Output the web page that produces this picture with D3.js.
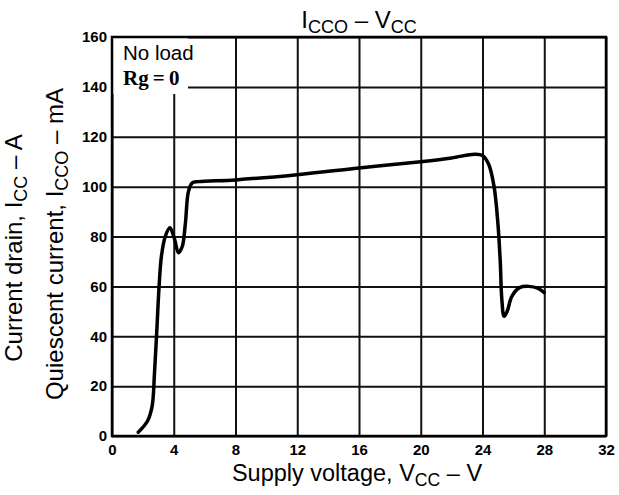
<!DOCTYPE html>
<html>
<head>
<meta charset="utf-8">
<script src="https://cdn.jsdelivr.net/npm/d3@7"></script>
<style>
  body { margin: 0; background: #fff; }
</style>
</head>
<body>
<div id="vis"></div>
<script>
// curve (supply voltage V, quiescent current mA)
const volts = [1.7, 2.3, 2.6, 2.75, 2.9, 3.05, 3.2, 3.45, 3.75, 4.05, 4.3, 4.55, 4.75, 4.95, 5.2, 5.6,
  8, 12, 16, 20, 22, 23.5, 24, 24.4, 24.75, 25.0, 25.15, 25.25, 25.4, 25.6, 25.9, 26.4, 27, 27.6, 28];
const current = [1.5, 6, 12, 25, 42, 60, 72, 80, 83.5, 79, 73.5, 76, 85, 98, 101.5, 102,
  102.7, 104.8, 107.5, 110, 111.5, 113, 112.5, 109, 100, 85, 70, 55, 48, 50, 56, 59.5, 60, 59.2, 57.5];

const xTicks = [0, 4, 8, 12, 16, 20, 24, 28, 32];
const yTicks = [0, 20, 40, 60, 80, 100, 120, 140, 160];

const SANS = "'Liberation Sans', Arial, sans-serif";
const SERIF = "'Liberation Serif', 'Times New Roman', serif";

const FRAME_WIDTH = 619;
const FRAME_HEIGHT = 495;
const MARGINS = { left: 112, right: 13, top: 37, bottom: 59 };

const VIS_WIDTH = FRAME_WIDTH - MARGINS.left - MARGINS.right;
const VIS_HEIGHT = FRAME_HEIGHT - MARGINS.top - MARGINS.bottom;

const FRAME = d3.select("#vis")
  .append("svg")
  .attr("width", FRAME_WIDTH)
  .attr("height", FRAME_HEIGHT)
  .attr("font-family", SANS);

const X_SCALE = d3.scaleLinear().domain([0, 32]).range([0, VIS_WIDTH]);
const Y_SCALE = d3.scaleLinear().domain([0, 160]).range([VIS_HEIGHT, 0]);

const G = FRAME.append("g")
  .attr("transform", "translate(" + MARGINS.left + "," + MARGINS.top + ")");

// grid + tick labels
const xAxis = G.append("g")
  .attr("transform", "translate(0," + VIS_HEIGHT + ")")
  .call(d3.axisBottom(X_SCALE).tickValues(xTicks).tickSize(-VIS_HEIGHT).tickPadding(8));

const yAxis = G.append("g")
  .call(d3.axisLeft(Y_SCALE).tickValues(yTicks).tickSize(-VIS_WIDTH).tickPadding(5));

[xAxis, yAxis].forEach((ax) => {
  ax.attr("font-family", SANS).attr("font-size", 15).attr("font-weight", "bold");
  ax.select(".domain").remove();
  ax.selectAll("line").attr("stroke", "#111").attr("stroke-width", 2);
  ax.selectAll("text").attr("fill", "#000");
});

// blank patch behind the annotation
G.append("rect")
  .attr("x", 1)
  .attr("y", 1)
  .attr("width", 75)
  .attr("height", 56)
  .attr("fill", "#fff");

// frame
G.append("rect")
  .attr("width", VIS_WIDTH)
  .attr("height", VIS_HEIGHT)
  .attr("fill", "none")
  .attr("stroke", "#000")
  .attr("stroke-width", 2.5);

// the curve
const pts = volts.map((v, i) => [v, current[i]]);
G.append("path")
  .datum(pts)
  .attr("fill", "none")
  .attr("stroke", "#000")
  .attr("stroke-width", 3.5)
  .attr("stroke-linecap", "round")
  .attr("stroke-linejoin", "round")
  .attr("d", d3.line()
    .x((d) => X_SCALE(d[0]))
    .y((d) => Y_SCALE(d[1]))
    .curve(d3.curveCatmullRom.alpha(0.5)));

// annotation
G.append("text")
  .attr("x", 11)
  .attr("y", 23)
  .attr("font-size", 20.5)
  .text("No load");

G.append("text")
  .attr("x", 11)
  .attr("y", 48)
  .attr("font-family", SERIF)
  .attr("font-weight", "bold")
  .attr("font-size", 21)
  .text("Rg\u2009=\u20090");

// helper: text with a subscript in the middle
function subText(sel, parts, size) {
  sel.attr("font-size", size);
  sel.append("tspan").text(parts[0]);
  sel.append("tspan").attr("font-size", size * 0.75).attr("dy", size * 0.22).text(parts[1]);
  if (parts[2]) sel.append("tspan").attr("dy", -size * 0.22).text(parts[2]);
}

const title = FRAME.append("text")
  .attr("x", 359)
  .attr("y", 28)
  .attr("text-anchor", "middle");
subText(title, ["I", "CCO", " \u2013 V"], 24);
title.append("tspan").attr("font-size", 18).attr("dy", 24 * 0.22).text("CC");

const xLabel = FRAME.append("text")
  .attr("x", 357)
  .attr("y", 481)
  .attr("text-anchor", "middle");
subText(xLabel, ["Supply voltage, V", "CC", " \u2013 V"], 23.5);

const yLabel1 = FRAME.append("text")
  .attr("transform", "translate(22,248) rotate(-90)")
  .attr("text-anchor", "middle");
subText(yLabel1, ["Current drain, I", "CC", " \u2013 A"], 24);

const yLabel2 = FRAME.append("text")
  .attr("transform", "translate(63,244) rotate(-90)")
  .attr("text-anchor", "middle");
subText(yLabel2, ["Quiescent current, I", "CCO", " \u2013 mA"], 24);
</script>
</body>
</html>
